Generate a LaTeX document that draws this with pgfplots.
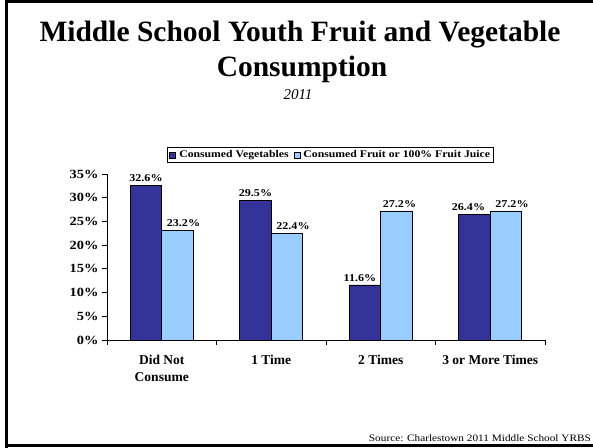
\documentclass[border=0pt]{standalone}
\usepackage{pgfplots}
\usepackage{pgfplotstable}
\pgfplotsset{compat=1.18}
\usepackage{fontspec}
\setmainfont{Liberation Serif}
\newfontfamily\widefont[FakeStretch=1.15]{Liberation Serif}
\definecolor{darkbar}{RGB}{51,51,153}
\definecolor{lightbar}{RGB}{153,204,255}

\pgfplotstableread{
x y dx
0 32.6 0
1 29.5 0
2 11.6 -5
3 26.4 -6
}\vegtable
\pgfplotstableread{
x y dx
0 23.2 6
1 22.4 6
2 27.2 3
3 27.2 6
}\fruittable

\begin{document}
\begin{tikzpicture}[x=1pt,y=1pt]
\useasboundingbox (0,0) rectangle (593,447);
\begin{scope}
\clip (0,0) rectangle (593,447);
\draw[line width=3pt] (6,-5) -- (6,445.5) -- (610,445.5);
\draw[line width=3pt] (6,1.5) -- (610,1.5);
\end{scope}
\node[anchor=base, inner sep=0pt, font=\bfseries\fontsize{29.5}{29.5}\selectfont] at (300,405) {Middle School Youth Fruit and Vegetable};
\node[anchor=base, inner sep=0pt, font=\bfseries\fontsize{29.5}{29.5}\selectfont] at (302,370) {Consumption};
\node[anchor=base, inner sep=0pt, font=\itshape\fontsize{15}{15}\selectfont] at (298,347) {2011};
\node[anchor=base east, inner sep=0pt, font=\widefont\fontsize{9.8}{9.8}\selectfont] at (591,6) {Source: Charlestown 2011 Middle School YRBS};
\begin{axis}[
  at={(107pt,107pt)}, anchor=south west,
  scale only axis, width=438pt, height=166pt,
  ybar=0pt, bar width=31.5pt,
  xmin=-0.5, xmax=3.5, ymin=0, ymax=35,
  axis lines=left,
  axis line style={-, line width=1pt, black},
  tick align=outside,
  major tick length=5pt,
  tick style={black, line width=0.8pt},
  ytick={0,5,10,15,20,25,30,35},
  yticklabels={0\%,5\%,10\%,15\%,20\%,25\%,30\%,35\%},
  yticklabel style={font=\widefont\bfseries\fontsize{12.5}{12.5}\selectfont},
  xtick={-0.5,0.5,1.5,2.5,3.5},
  xticklabels={},
  extra x ticks={0,1,2,3},
  extra x tick labels={{Did Not\\Consume},{1 Time},{2 Times},{3 or More Times}},
  extra x tick style={major tick length=0pt},
  xticklabel style={align=center, font=\bfseries\fontsize{13.5}{17}\selectfont, yshift=-12pt},
  legend columns=2,
  legend style={at={(0.511,1.1145)}, anchor=center, draw=black, line width=1pt,
    font=\widefont\bfseries\fontsize{10.2}{10.2}\selectfont, inner sep=1.5pt,
    /tikz/every odd column/.append style={column sep=1pt},
    /tikz/every even column/.append style={column sep=3pt}},
  every node near coord/.append style={text=black, font=\widefont\bfseries\fontsize{10.5}{10.5}\selectfont},
  nodes near coords={\pgfmathprintnumber[fixed,fixed zerofill,precision=1,assume math mode=true]{\pgfplotspointmeta}\%},
]
\addplot[fill=darkbar, draw=black, line width=0.8pt,
  visualization depends on={\thisrow{dx} \as \dx},
  every node near coord/.append style={xshift=\dx pt},
  legend image code/.code={\draw[fill=darkbar, draw=black, line width=0.8pt] (0pt,-3pt) rectangle (6pt,3pt);}]
  table[x=x,y=y] {\vegtable};
\addlegendentry{Consumed Vegetables}
\addplot[fill=lightbar, draw=black, line width=0.8pt,
  visualization depends on={\thisrow{dx} \as \dx},
  every node near coord/.append style={xshift=\dx pt},
  legend image code/.code={\draw[fill=lightbar, draw=black, line width=0.8pt] (0pt,-3pt) rectangle (6pt,3pt);}]
  table[x=x,y=y] {\fruittable};
\addlegendentry{Consumed Fruit or 100\% Fruit Juice}
\end{axis}
\end{tikzpicture}
\end{document}
